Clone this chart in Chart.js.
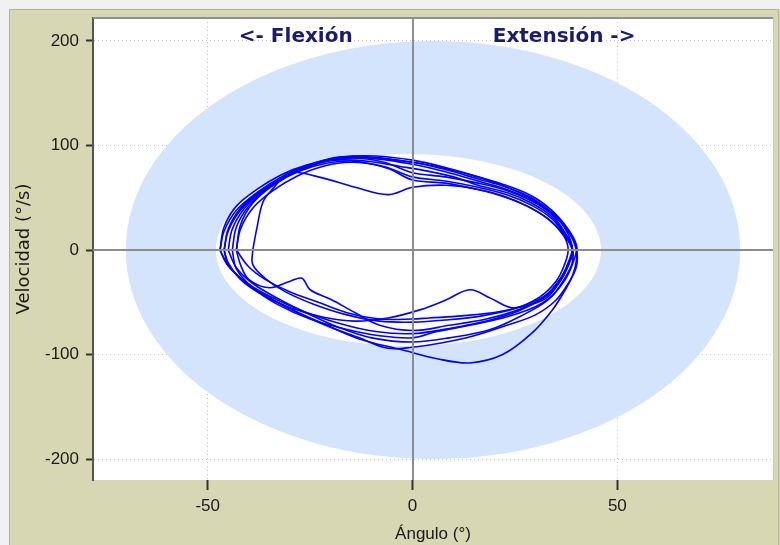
<!DOCTYPE html>
<html>
<head>
<meta charset="utf-8">
<script src="https://cdn.jsdelivr.net/npm/chart.js@4.4.1/dist/chart.umd.min.js"></script>
<style>
  html, body { margin: 0; padding: 0; background: #f0f0f0; }
  #wrap { width: 780px; height: 545px; }
</style>
</head>
<body>
<div id="wrap"><canvas id="phaseChart" width="780" height="545"></canvas></div>
<script>
// axis ticks
const angleTicks = [-50, 0, 50];
const velocityTicks = [-200, -100, 0, 100, 200];

// normal range band (angle / velocity units)
const outerBand = { cx: 5, cy: 0, rx: 75, ry: 200 };
const innerBand = { cx: -1, cy: 0, rx: 47, ry: 92 };

// recorded cycles: [angle (°), velocity (°/s)]
const cycle1 = [[-47,0],[-46,18],[-43,38],[-38,55],[-32,70],[-25,82],[-18,88],[-10,88],[-2,85],[6,80],[14,72],[22,63],[29,52],[34,38],[38,20],[40,5],[40,-10],[39,-25],[37,-40],[34,-58],[29,-80],[22,-100],[14,-108],[6,-104],[-3,-95],[-13,-85],[-22,-70],[-32,-52],[-40,-33],[-45,-15],[-47,0]];
const cycle2 = [[-46,0],[-45,20],[-42,40],[-37,57],[-30,72],[-23,83],[-16,88],[-8,87],[0,82],[8,75],[16,66],[23,58],[30,46],[35,32],[38,15],[39,0],[38,-15],[36,-30],[33,-45],[29,-52],[24,-55],[19,-46],[14,-38],[8,-48],[2,-57],[-6,-65],[-14,-68],[-22,-64],[-30,-55],[-37,-42],[-42,-28],[-45,-12],[-46,0]];
const cycle3 = [[-45,0],[-44,20],[-41,40],[-36,58],[-30,72],[-24,83],[-18,89],[-10,89],[0,84],[8,77],[16,68],[23,60],[29,50],[34,36],[38,18],[40,2],[39,-14],[37,-30],[33,-48],[27,-62],[19,-76],[9,-84],[0,-88],[-10,-84],[-18,-74],[-26,-60],[-33,-46],[-39,-32],[-43,-17],[-45,0]];
const cycle4 = [[-47,0],[-46,22],[-43,42],[-38,58],[-32,72],[-26,81],[-19,86],[-11,85],[-3,80],[3,76],[10,70],[16,62],[23,55],[29,45],[34,32],[37,17],[39,3],[38,-12],[36,-28],[32,-45],[26,-58],[18,-68],[9,-75],[0,-80],[-9,-78],[-18,-70],[-27,-58],[-35,-44],[-41,-30],[-45,-15],[-47,0]];
const cycle5 = [[-43,0],[-42,20],[-39,40],[-34,57],[-28,71],[-22,80],[-15,84],[-7,80],[0,70],[8,66],[16,60],[23,53],[29,43],[34,30],[37,15],[39,0],[38,-15],[36,-30],[32,-46],[26,-57],[18,-66],[9,-72],[0,-77],[-8,-72],[-14,-60],[-20,-47],[-25,-38],[-27,-27],[-30,-30],[-35,-36],[-40,-28],[-42,-14],[-43,0]];
const cycle6 = [[-39,0],[-38,21],[-36.5,46],[-34,59],[-30,74],[-23,70],[-14,60],[-6,53],[0,60],[8,62],[16,58],[23,50],[29,40],[34,27],[37,13],[38,0],[37,-15],[35,-30],[31,-45],[25,-56],[17,-63],[8,-67],[0,-69],[-8,-68],[-16,-62],[-24,-52],[-31,-40],[-36,-27],[-39,-14],[-39,0]];
const cycle7 = [[-44,0],[-43,22],[-40,42],[-35,60],[-29,74],[-22,84],[-15,88],[-7,84],[0,74],[8,70],[16,64],[23,57],[29,47],[34,34],[37,18],[39,2],[39,-12],[37,-28],[34,-44],[29,-56],[22,-65],[14,-72],[6,-78],[0,-84],[-8,-82],[-16,-76],[-25,-66],[-33,-52],[-39,-36],[-43,-18],[-44,0]];
const cycle8 = [[-46,0],[-45,18],[-42,38],[-37,56],[-31,70],[-24,82],[-17,89],[-9,90],[0,86],[8,79],[16,70],[23,60],[29,49],[34,35],[38,18],[40,0],[40,-16],[38,-32],[35,-48],[30,-62],[23,-72],[15,-82],[7,-89],[0,-93],[-6,-94],[-13,-84],[-23,-69],[-33,-50],[-41,-30],[-45,-14],[-46,0]];
const cycle9 = [[-43,0],[-42,24],[-39,45],[-34,62],[-28,75],[-21,83],[-14,85],[-6,78],[0,67],[8,64],[16,58],[22,52],[28,42],[33,30],[37,14],[39,0],[38,-14],[36,-28],[33,-42],[28,-52],[21,-59],[12,-63],[4,-65],[0,-66],[-8,-66],[-16,-60],[-23,-50],[-30,-40],[-36,-28],[-40,-16],[-43,0]];

const cycles = [cycle1, cycle2, cycle3, cycle4, cycle5, cycle6, cycle7, cycle8, cycle9];

const datasets = cycles.map((c, i) => ({
  label: 'Ciclo ' + (i + 1),
  data: c.map(p => ({ x: p[0], y: p[1] })),
  showLine: true,
  borderColor: '#0000ff',
  borderWidth: 1.6,
  pointRadius: 0,
  tension: 0.35,
  fill: false
}));

// panel + plot background
const panelPlugin = {
  id: 'panel',
  beforeDraw(chart) {
    const ctx = chart.ctx, a = chart.chartArea;
    ctx.save();
    ctx.fillStyle = '#f0f0f0';
    ctx.fillRect(0, 0, chart.width, chart.height);
    ctx.fillStyle = '#d7d7b3';
    ctx.fillRect(9, 9, chart.width - 9, chart.height - 9);
    ctx.strokeStyle = '#b4b49c';
    ctx.lineWidth = 1;
    ctx.strokeRect(9.5, 9.5, chart.width - 11, chart.height - 8);
    ctx.fillStyle = '#ffffff';
    ctx.fillRect(a.left, a.top, a.right - a.left, a.bottom - a.top);
    ctx.restore();
  }
};

// normal range ring, zero lines, direction labels
const bandPlugin = {
  id: 'band',
  beforeDatasetsDraw(chart) {
    const ctx = chart.ctx, a = chart.chartArea;
    const xs = chart.scales.x, ys = chart.scales.y;
    const ell = (b, color) => {
      const cx = xs.getPixelForValue(b.cx), cy = ys.getPixelForValue(b.cy);
      const rx = Math.abs(xs.getPixelForValue(b.cx + b.rx) - cx);
      const ry = Math.abs(ys.getPixelForValue(b.cy + b.ry) - cy);
      ctx.beginPath();
      ctx.ellipse(cx, cy, rx, ry, 0, 0, Math.PI * 2);
      ctx.fillStyle = color;
      ctx.fill();
    };
    ctx.save();
    ctx.beginPath();
    ctx.rect(a.left, a.top, a.right - a.left, a.bottom - a.top);
    ctx.clip();
    ell(outerBand, '#d4e4fc');
    ell(innerBand, '#ffffff');
    ctx.restore();
  },
  afterDatasetsDraw(chart) {
    const ctx = chart.ctx, a = chart.chartArea;
    const xs = chart.scales.x, ys = chart.scales.y;
    ctx.save();
    ctx.strokeStyle = '#8c8c8c';
    ctx.lineWidth = 2;
    const x0 = Math.round(xs.getPixelForValue(0));
    const y0 = Math.round(ys.getPixelForValue(0));
    ctx.beginPath();
    ctx.moveTo(x0, a.top); ctx.lineTo(x0, a.bottom);
    ctx.moveTo(a.left, y0); ctx.lineTo(a.right, y0);
    ctx.stroke();
    // plot frame top / right
    ctx.lineWidth = 2;
    ctx.strokeStyle = '#909090';
    ctx.beginPath();
    ctx.moveTo(a.left, a.top); ctx.lineTo(a.right, a.top);
    ctx.stroke();
    ctx.lineWidth = 1;
    ctx.strokeStyle = '#c8c8c8';
    ctx.beginPath();
    ctx.moveTo(a.right + 0.5, a.top); ctx.lineTo(a.right + 0.5, a.bottom);
    ctx.stroke();
    // direction labels
    ctx.fillStyle = '#1a1a70';
    ctx.font = 'bold 20px "DejaVu Sans"';
    ctx.textAlign = 'center';
    ctx.textBaseline = 'middle';
    ctx.fillText('<- Flexión', xs.getPixelForValue(-28.5), ys.getPixelForValue(204));
    ctx.fillText('Extensión ->', xs.getPixelForValue(37), ys.getPixelForValue(204));
    ctx.restore();
  }
};

new Chart(document.getElementById('phaseChart'), {
  type: 'scatter',
  data: { datasets: datasets },
  options: {
    responsive: false,
    animation: false,
    events: [],
    layout: { padding: { left: 10, top: 18, right: 7, bottom: 0 } },
    plugins: {
      legend: { display: false },
      tooltip: { enabled: false }
    },
    scales: {
      x: {
        type: 'linear',
        min: -78,
        max: 88,
        afterBuildTicks: axis => { axis.ticks = angleTicks.map(v => ({ value: v })); },
        afterFit: axis => { axis.height = 65; },
        grid: {
          color: '#c4c4c4',
          lineWidth: 1,
          tickLength: 10,
          tickColor: '#333333',
          tickWidth: 2,
          tickBorderDash: []
        },
        border: { display: false, dash: [1, 3] },
        ticks: {
          color: '#1a1a1a',
          padding: 6,
          font: { family: '"Liberation Sans", Arial', size: 17 }
        },
        title: {
          display: true,
          text: 'Ángulo (°)',
          color: '#1a1a1a',
          padding: { top: 2, bottom: 0 },
          font: { family: '"Liberation Sans", Arial', size: 17 }
        }
      },
      y: {
        type: 'linear',
        min: -220,
        max: 222,
        afterBuildTicks: axis => { axis.ticks = velocityTicks.map(v => ({ value: v })); },
        afterFit: axis => { axis.width = 83; },
        grid: {
          color: '#c4c4c4',
          lineWidth: 1,
          tickLength: 7,
          tickColor: '#333333',
          tickWidth: 2,
          tickBorderDash: []
        },
        border: { display: true, color: '#555555', width: 2, dash: [1, 3] },
        ticks: {
          color: '#1a1a1a',
          padding: 7,
          font: { family: '"Liberation Sans", Arial', size: 17 }
        },
        title: {
          display: true,
          text: 'Velocidad (°/s)',
          color: '#1a1a1a',
          padding: { top: 4, bottom: 0 },
          font: { family: '"DejaVu Sans"', size: 18 }
        }
      }
    }
  },
  plugins: [panelPlugin, bandPlugin]
});
</script>
</body>
</html>
